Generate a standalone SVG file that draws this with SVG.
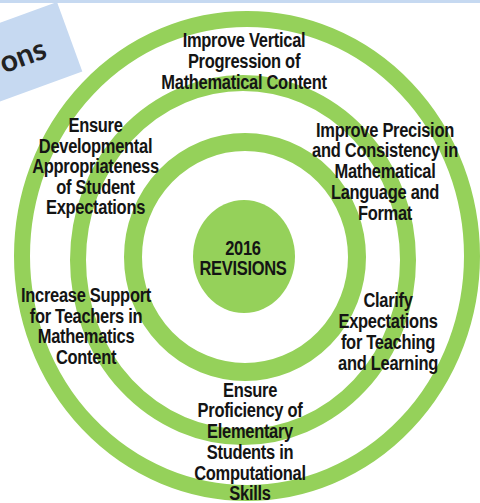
<svg xmlns="http://www.w3.org/2000/svg" width="480" height="503" viewBox="0 0 480 503">
<style>
.ring{fill:none;stroke:#95d15a}
.hub{fill:#95d15a}
.lbl{font-family:"Liberation Sans",Arial,sans-serif;font-weight:bold;font-size:16.5px;letter-spacing:-0.3px;fill:#141414;text-anchor:middle}
.title{font-family:Lato,"Open Sans",sans-serif;font-weight:bold;font-size:30px;fill:#222;text-anchor:end}
</style>
<rect x="0" y="0" width="480" height="503" fill="#ffffff"/>
<rect x="0" y="0" width="480" height="3" fill="#c6d9f1"/>
<g id="title-box" transform="rotate(-20 57 2)">
<rect x="-160" y="2" width="217" height="74" fill="#c6d9f1"/>
<text class="title" x="30" y="51">ons</text>
</g>
<g id="rings">
<ellipse id="ring-outer" class="ring" cx="247" cy="256" rx="225" ry="237" stroke-width="16"/>
<ellipse id="ring-middle" class="ring" cx="243" cy="260" rx="165" ry="177" stroke-width="16"/>
<ellipse id="ring-inner" class="ring" cx="245" cy="257" rx="112" ry="115" stroke-width="18"/>
</g>
<g id="center">
<ellipse class="hub" cx="244" cy="256.5" rx="51" ry="56.5"/>
<text class="lbl" transform="translate(243 255) scale(1 1.2)">2016</text>
<text class="lbl" transform="translate(243 275) scale(1 1.2)">REVISIONS</text>
</g>
<g id="label-top">
<text class="lbl" transform="translate(244 47) scale(1 1.2)">Improve Vertical</text>
<text class="lbl" transform="translate(244 68) scale(1 1.2)">Progression of</text>
<text class="lbl" transform="translate(244 88.5) scale(1 1.2)">Mathematical Content</text>
</g>
<g id="label-top-left">
<text class="lbl" transform="translate(95.5 132) scale(1 1.2)">Ensure</text>
<text class="lbl" transform="translate(95.5 152.5) scale(1 1.2)">Developmental</text>
<text class="lbl" transform="translate(95.5 173) scale(1 1.2)">Appropriateness</text>
<text class="lbl" transform="translate(95.5 193.5) scale(1 1.2)">of Student</text>
<text class="lbl" transform="translate(95.5 214) scale(1 1.2)">Expectations</text>
</g>
<g id="label-bottom-left">
<text class="lbl" transform="translate(86 302) scale(1 1.2)">Increase Support</text>
<text class="lbl" transform="translate(86 322.5) scale(1 1.2)">for Teachers in</text>
<text class="lbl" transform="translate(86 343) scale(1 1.2)">Mathematics</text>
<text class="lbl" transform="translate(86 364) scale(1 1.2)">Content</text>
</g>
<g id="label-top-right">
<text class="lbl" transform="translate(385 137) scale(1 1.2)">Improve Precision</text>
<text class="lbl" transform="translate(385 157) scale(1 1.2)">and Consistency in</text>
<text class="lbl" transform="translate(385 177.5) scale(1 1.2)">Mathematical</text>
<text class="lbl" transform="translate(385 198.5) scale(1 1.2)">Language and</text>
<text class="lbl" transform="translate(385 220) scale(1 1.2)">Format</text>
</g>
<g id="label-bottom-right">
<text class="lbl" transform="translate(388 307) scale(1 1.2)">Clarify</text>
<text class="lbl" transform="translate(388 328) scale(1 1.2)">Expectations</text>
<text class="lbl" transform="translate(388 348.5) scale(1 1.2)">for Teaching</text>
<text class="lbl" transform="translate(388 369.5) scale(1 1.2)">and Learning</text>
</g>
<g id="label-bottom">
<text class="lbl" transform="translate(250 397) scale(1 1.2)">Ensure</text>
<text class="lbl" transform="translate(250 417) scale(1 1.2)">Proficiency of</text>
<text class="lbl" transform="translate(250 437.5) scale(1 1.2)">Elementary</text>
<text class="lbl" transform="translate(250 458.5) scale(1 1.2)">Students in</text>
<text class="lbl" transform="translate(250 480) scale(1 1.2)">Computational</text>
<text class="lbl" transform="translate(250 500) scale(1 1.2)">Skills</text>
</g>
</svg>
